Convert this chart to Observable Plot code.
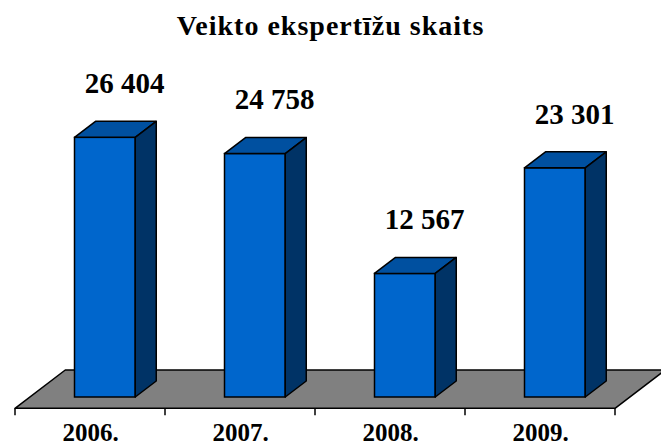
<!DOCTYPE html>
<html><head><meta charset="utf-8">
<script src="https://cdn.jsdelivr.net/npm/d3@7"></script>
<script src="https://cdn.jsdelivr.net/npm/@observablehq/plot@0.6"></script>
<style>
body{margin:0;background:#fff;width:661px;height:448px;overflow:hidden;font-family:"Liberation Serif","Times New Roman",serif;}
#title{height:50px;line-height:52px;text-align:center;font-size:28px;font-weight:bold;letter-spacing:1px;color:#000;white-space:nowrap;}
#chart svg{display:block;}
#chart svg text{font-family:"Liberation Serif","Times New Roman",serif !important;font-weight:bold;}
</style></head><body>
<div id="title"></div>
<div id="chart"></div>
<script>
const title = "Veikto ekspertīžu skaits";
const years = ["2006.", "2007.", "2008.", "2009."];
const values = [26404, 24758, 12567, 23301];

const data = years.map((year, i) => ({year, value: values[i]}));
const fmt = v => d3.format(",")(v).replace(/,/g, " ");

const SERIF = "Liberation Serif";
const DX = 21, DY = 16;            // 3D depth offset of bars (px)
const INSET_L = 59.5, INSET_R = 29.75;
const FRONT = "#0066CC", TOP = "#0050A0", SIDE = "#003366", FLOOR = "#808080";

function bandInfo(scales, dims) {
  const x = scales.x;
  const bw = typeof x.bandwidth === "function" ? x.bandwidth()
    : (dims.width - dims.marginLeft - dims.marginRight) / years.length;
  return {x, bw};
}

function floorMark(index, scales, chans, dims) {
  const {x, bw} = bandInfo(scales, dims);
  const y0 = scales.y(0);
  const x0 = x(years[0]), x1 = x(years[years.length - 1]) + bw;
  const front = y0 + 11.3, back = y0 - 27;
  const depthX = (front - back) * DX / DY;
  const g = d3.create("svg:g");
  g.append("path")
    .attr("d", `M${x0},${front}L${x1},${front}L${x1 + depthX},${back}L${x0 + depthX},${back}Z`)
    .attr("fill", FLOOR).attr("stroke", "#000").attr("stroke-width", 1.5).attr("stroke-linejoin", "round");
  const edges = years.map(yr => x(yr)).concat([x1]);
  for (const ex of edges) {
    g.append("line").attr("x1", ex).attr("x2", ex).attr("y1", front).attr("y2", front + 7)
      .attr("stroke", "#000").attr("stroke-width", 1.5);
  }
  return g.node();
}

function depthMark(index, scales, chans, dims) {
  const {x, bw} = bandInfo(scales, dims);
  const y = scales.y;
  const g = d3.create("svg:g").attr("stroke", "#000").attr("stroke-width", 1.5).attr("stroke-linejoin", "round");
  for (const d of data) {
    const l = x(d.year) + INSET_L, r = x(d.year) + bw - INSET_R;
    const t = y(d.value), b = y(0);
    g.append("path").attr("fill", TOP)
      .attr("d", `M${l},${t}L${r},${t}L${r + DX},${t - DY}L${l + DX},${t - DY}Z`);
    g.append("path").attr("fill", SIDE)
      .attr("d", `M${r},${t}L${r + DX},${t - DY}L${r + DX},${b - DY}L${r},${b}Z`);
  }
  return g.node();
}

document.getElementById("title").textContent = title;

const chart = Plot.plot({
  width: 661,
  height: 398,
  marginLeft: 14,
  marginRight: 46,
  marginTop: 52,
  marginBottom: 51,
  style: {background: "white", overflow: "visible", color: "#000"},
  x: {type: "band", domain: years, padding: 0, axis: null},
  y: {domain: [0, 30000], axis: null},
  marks: [
    floorMark,
    Plot.barY(data, {x: "year", y: "value", fill: FRONT, stroke: "#000", strokeWidth: 1.5,
      insetLeft: INSET_L, insetRight: INSET_R}),
    depthMark,
    Plot.text(data, {x: "year", y: "value", text: d => fmt(d.value), dx: 34, dy: -54,
      fontSize: 29, fontWeight: "bold", fontFamily: SERIF, lineAnchor: "middle", fill: "#000"}),
    Plot.text(years, {x: d => d, text: d => d, frameAnchor: "bottom", dy: 35,
      fontSize: 25, fontWeight: "bold", fontFamily: SERIF, lineAnchor: "middle", fill: "#000"})
  ]
});
document.getElementById("chart").appendChild(chart);
</script>
</body></html>
